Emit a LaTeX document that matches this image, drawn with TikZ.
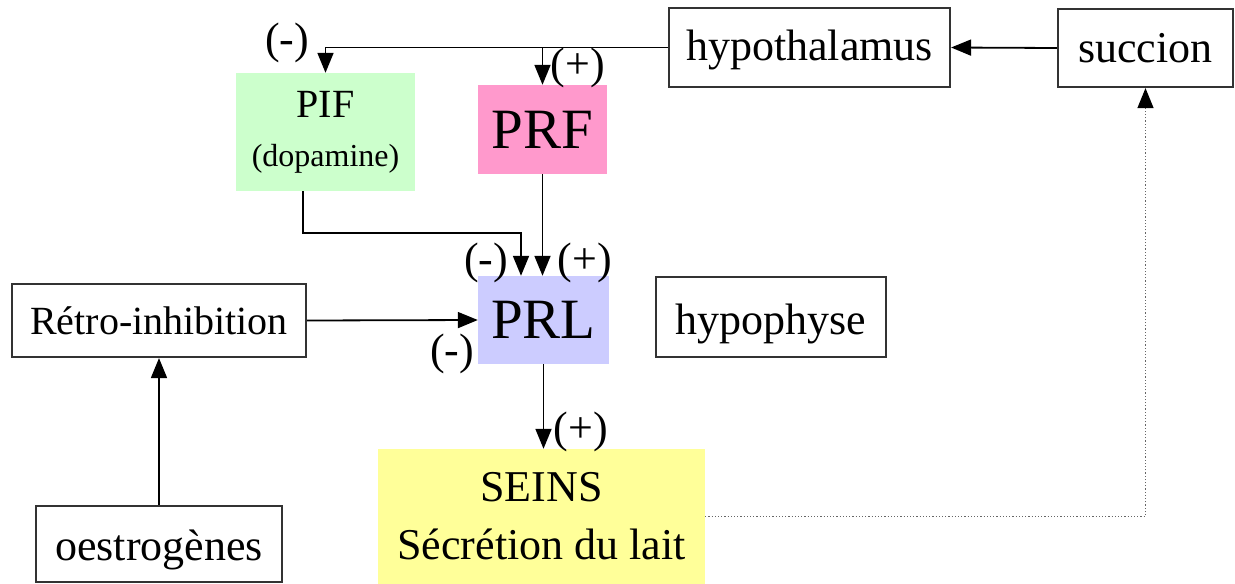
\documentclass[tikz,border=0pt]{standalone}
\usepackage{fontspec}
\setmainfont{Liberation Serif}
\usetikzlibrary{arrows.meta,calc}
\newcommand{\fs}[1]{\fontsize{#1}{#1}\selectfont}
\begin{document}
\begin{tikzpicture}[x=1pt,y=-1pt,
  box/.style={draw=black!80,line width=2.2pt,inner sep=0pt,font=\fs{44}},
  fbox/.style={inner sep=0pt,align=center},
  arr/.style={line width=1.8pt,-{Triangle[length=20pt,width=16pt]}},
  lab/.style={inner sep=0pt,font=\fs{44}}]
\useasboundingbox (0,0) rectangle (1235,584);
\definecolor{pifc}{HTML}{CCFFCC}
\definecolor{prfc}{HTML}{FF99CC}
\definecolor{prlc}{HTML}{CCCCFF}
\definecolor{seinc}{HTML}{FFFF99}
% boxes
\node[box,minimum width=281pt,minimum height=79pt,text height=33pt,text depth=6.5pt] (hyp) at (809.5,47.5) {hypothalamus};
\node[box,minimum width=175pt,minimum height=78pt] (succ) at (1145.5,48) {succion};
\node[fbox,fill=pifc,minimum width=179pt,minimum height=118pt] (pif) at (325.5,132)
  {\fs{40}PIF\\[26pt]\fs{32}(dopamine)};
\node[fbox,fill=prfc,minimum width=129pt,minimum height=89pt,font=\fs{57}] (prf) at (542.5,129.5) {PRF};
\node[fbox,fill=prlc,minimum width=131pt,minimum height=88pt,font=\fs{57}] (prl) at (543.5,320) {PRL};
\node[box,minimum width=294pt,minimum height=73pt,font=\fs{40}] (retro) at (159,320.5) {Rétro-inhibition};
\node[box,minimum width=230pt,minimum height=80pt,text height=37pt,text depth=2.5pt] (hypo) at (771,317) {hypophyse};
\node[box,minimum width=246pt,minimum height=76pt,text height=36pt,text depth=3.5pt] (oestro) at (159,544) {oestrogènes};
\node[fbox,fill=seinc,minimum width=327pt,minimum height=135pt,font=\fs{44}] (seins) at (541.5,516.5)
  {SEINS\\[14pt]Sécrétion du lait};
% connectors
\draw[arr] (hyp.west) -| (pif.north);
\draw[arr] (hyp.west -| prf.north) -- (prf.north);
\coordinate (pifk) at (303,233);
\draw[arr] (pif.south -| pifk) -- (pifk) -| ([xshift=-22.5pt]prl.north);
\draw[arr] (prf.south) -- (prf.south |- prl.north);
\draw[arr] (retro.east) -- (prl.west);
\draw[arr] (oestro.north) -- (retro.south);
\draw[arr] (prl.south) -- (prl.south |- seins.north);
\draw[arr] (succ.west) -- (hyp.east);
\draw[black!60,line width=1.2pt,dotted,-{Triangle[length=20pt,width=16pt,fill=black,color=black]}] (seins.east) -| (succ.south);
% labels
\node[lab] (l1) at (287,43) {(-)};
\node[lab] (l2) at (578,68) {(+)};
\node[lab] (l3) at (486,263) {(-)};
\node[lab] (l4) at (585,263) {(+)};
\node[lab] (l5) at (452,354) {(-)};
\node[lab] (l6) at (581,432) {(+)};
\end{tikzpicture}
\end{document}
